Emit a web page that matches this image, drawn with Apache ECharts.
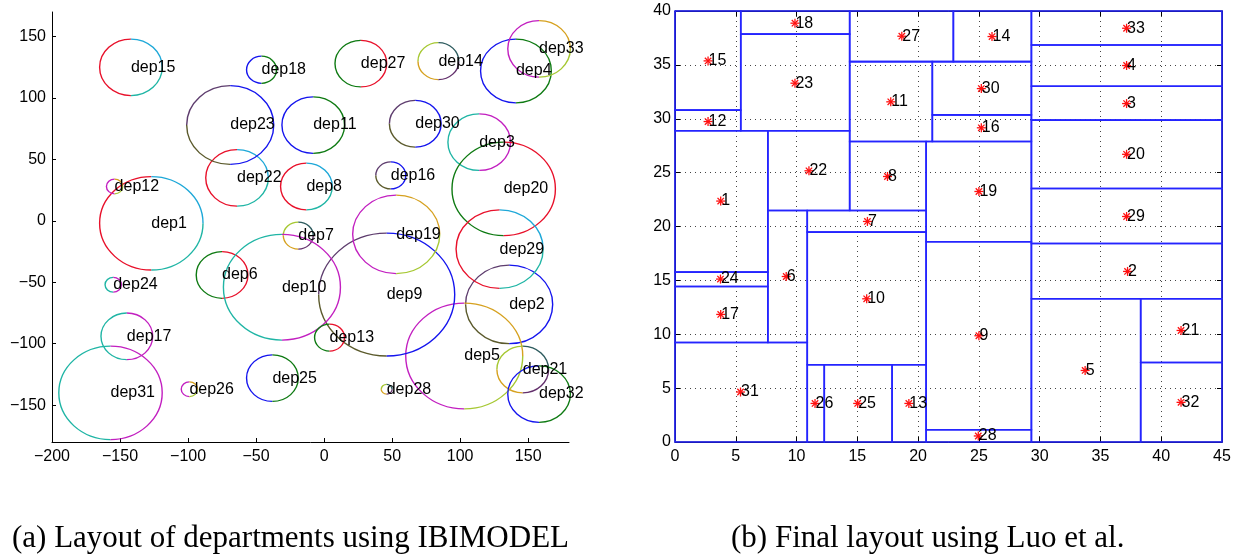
<!DOCTYPE html>
<html><head><meta charset="utf-8">
<script src="https://cdn.jsdelivr.net/npm/echarts@6/dist/echarts.min.js"></script>
<style>html,body{margin:0;padding:0;background:#fff}#c{width:1240px;height:560px}</style>
</head><body><div id="c"></div>
<script>
// ---------- Panel (a): IBIMODEL circles ----------
const circleNames = ['dep1','dep2','dep3','dep4','dep5','dep6','dep7','dep8','dep9','dep10','dep11',
  'dep12','dep13','dep14','dep15','dep16','dep17','dep18','dep19','dep20','dep21','dep22',
  'dep23','dep24','dep25','dep26','dep27','dep28','dep29','dep30','dep31','dep32','dep33'];
const circleX = [-127, 136, 114, 141, 103, -75, -19, -13, 46, -31, -8,
  -154, 4, 84, -142, 49, -145, -46, 53, 132, 146, -64,
  -69, -155, -38, -99, 27, 46, 129, 67, -157, 158, 158];
const circleY = [-2, -68, 64, 122, -110, -44, -12, 28, -60, -54, 78,
  28, -95, 130, 125, 37, -94, 123, -11, 26, -121, 35,
  78, -52, -128, -137, 128, -137, -23, 79, -140, -141, 140];
const circleR = [38, 32, 23, 26, 43, 19, 11, 19, 50, 43, 23,
  6, 11, 15, 23, 11, 19, 11, 32, 38, 19, 23,
  32, 6, 19, 6, 19, 4, 32, 19, 38, 23, 23];
const leftXTicks = [-200, -150, -100, -50, 0, 50, 100, 150];
const leftYTicks = [-150, -100, -50, 0, 50, 100, 150];

// ---------- Panel (b): final block layout ----------
const layoutLabels = ['1','2','3','4','5','6','7','8','9','10','11','12','13','14','15','16','17',
  '18','19','20','21','22','23','24','25','26','27','28','29','30','31','32','33'];
const pointX = [3.76, 37.23, 37.15, 37.15, 33.74, 9.15, 15.83, 17.48, 25.0, 15.77, 17.75,
  2.72, 19.24, 26.08, 2.72, 25.2, 3.76, 9.87, 25.0, 37.15, 41.63, 11.02,
  9.87, 3.74, 15.03, 11.52, 18.66, 24.95, 37.15, 25.2, 5.39, 41.63, 37.15];
const pointY = [22.36, 15.83, 31.41, 34.94, 6.64, 15.36, 20.47, 24.64, 9.86, 13.29, 31.57,
  29.74, 3.58, 37.63, 35.37, 29.16, 11.84, 38.87, 23.25, 26.7, 10.35, 25.17,
  33.3, 15.12, 3.58, 3.58, 37.66, 0.56, 20.93, 32.8, 4.64, 3.68, 38.4];
const rectX0 = [0, 29.32, 29.32, 29.32, 29.32, 7.64, 10.88, 14.37, 20.66, 10.88, 14.37,
  0, 17.86, 22.9, 0, 21.17, 0, 5.41, 20.66, 29.32, 38.31, 7.64,
  5.41, 0, 12.28, 10.88, 14.37, 20.66, 29.32, 21.17, 0, 38.31, 29.32];
const rectY0 = [15.77, 13.29, 29.87, 33.02, 0, 9.24, 19.48, 21.48, 1.14, 7.17, 27.89,
  28.88, 0, 35.3, 30.8, 27.89, 9.24, 37.85, 18.58, 23.53, 7.38, 21.48,
  28.88, 14.43, 0, 0, 35.3, 0, 18.42, 30.36, 0, 0, 36.85];
const rectX1 = [7.64, 45, 45, 45, 38.31, 10.88, 20.66, 20.66, 29.32, 20.66, 21.17,
  5.41, 20.66, 29.32, 5.41, 29.32, 7.64, 14.37, 29.32, 45, 45, 14.37,
  14.37, 7.64, 17.86, 12.28, 22.9, 29.32, 45, 29.32, 10.88, 45, 45];
const rectY1 = [28.88, 18.42, 33.02, 36.85, 13.29, 21.48, 21.48, 27.89, 18.58, 19.48, 35.3,
  30.8, 7.17, 40, 40, 30.36, 14.43, 40, 27.89, 29.87, 13.29, 28.88,
  37.85, 15.77, 7.17, 7.17, 40, 1.14, 23.53, 35.3, 9.24, 7.38, 40];
const rightXTicks = [0, 5, 10, 15, 20, 25, 30, 35, 40, 45];
const rightYTicks = [0, 5, 10, 15, 20, 25, 30, 35, 40];

const captions = ['(a) Layout of departments using IBIMODEL', '(b) Final layout using Luo et al.'];

// ---------- styles ----------
const C = {red:'#e8102a', cyan:'#1ea8d8', teal:'#1fb5a5', blue:'#1414ee', green:'#0e7a12',
  purple:'#5e3d6e', olive:'#5b5a2c', magenta:'#c21fc0', gold:'#d6a11f', lime:'#a6c832',
  darkteal:'#2d5b5e', plum:'#63306c'};
const PALETTES = [
  [[90,270,C.red],[270,360,C.teal],[0,90,C.cyan]],
  [[90,180,C.purple],[180,270,C.olive],[270,450,C.blue]],
  [[90,270,C.teal],[270,450,C.magenta]],
  [[90,270,C.blue],[270,450,C.green]],
  [[90,270,C.magenta],[270,360,C.lime],[0,90,C.gold]],
  [[90,270,C.green],[270,450,C.red]],
  [[90,180,C.lime],[180,270,C.gold],[270,360,C.plum],[0,90,C.darkteal]]
];
const SANS = '"Liberation Sans", Arial, Helvetica, sans-serif';
const fmtMinus = v => String(v).replace('-', '\u2212');

function renderCircle(params, api) {
  const i = params.dataIndex;
  const c = api.coord([api.value(0), api.value(1)]);
  const r = api.value(2);
  const rx = api.size([r, 0])[0];
  const ry = api.size([0, r])[1];
  const children = PALETTES[i % 7].map(s => ({
    type: 'arc', x: c[0], y: c[1], scaleX: 1, scaleY: ry / rx,
    shape: {cx: 0, cy: 0, r: rx, startAngle: -s[1] * Math.PI / 180, endAngle: -s[0] * Math.PI / 180, clockwise: true},
    style: {stroke: s[2], fill: 'none', lineWidth: 1.4, strokeNoScale: true}
  }));
  children.push({type: 'text', x: c[0], y: c[1], z2: 10,
    style: {text: circleNames[i], fill: '#000', font: '16px ' + SANS,
      align: 'left', verticalAlign: 'middle', textAlign: 'left', textVerticalAlign: 'middle'}});
  return {type: 'group', children};
}

function renderRect(params, api) {
  const p0 = api.coord([api.value(0), api.value(1)]);
  const p1 = api.coord([api.value(2), api.value(3)]);
  return {type: 'rect',
    shape: {x: Math.min(p0[0], p1[0]), y: Math.min(p0[1], p1[1]),
      width: Math.abs(p1[0] - p0[0]), height: Math.abs(p1[1] - p0[1])},
    style: {stroke: '#2424ff', fill: 'none', lineWidth: 1.6}};
}

function renderPoint(params, api) {
  const i = params.dataIndex;
  const p = api.coord([api.value(0), api.value(1)]);
  const a = 4.5, d = 3.2;
  const seg = (x1, y1, x2, y2) => ({type: 'line',
    shape: {x1: p[0] + x1, y1: p[1] + y1, x2: p[0] + x2, y2: p[1] + y2},
    style: {stroke: '#ff1010', lineWidth: 1.3}});
  return {type: 'group', children: [
    seg(-a, 0, a, 0), seg(0, -a, 0, a), seg(-d, -d, d, d), seg(-d, d, d, -d),
    {type: 'text', x: p[0] + 0.5, y: p[1],
      style: {text: layoutLabels[i], fill: '#000', font: '16px ' + SANS,
        align: 'left', verticalAlign: 'middle', textAlign: 'left', textVerticalAlign: 'middle'}}
  ]};
}

const circleData = circleX.map((x, i) => [x, circleY[i], circleR[i]]);
const rectData = rectX0.map((x, i) => [x, rectY0[i], rectX1[i], rectY1[i]]);
const pointData = pointX.map((x, i) => [x, pointY[i]]);

const axisText = {color: '#000', fontSize: 16, fontFamily: SANS};
const blackLine = {show: true, onZero: false, lineStyle: {color: '#000', width: 1}};

const option = {
  animation: false,
  backgroundColor: '#fff',
  grid: [
    {left: 52, top: 12, width: 517, height: 430, show: false},
    {left: 675, top: 11, width: 547, height: 431, show: true, borderColor: '#000', borderWidth: 1, backgroundColor: 'transparent'}
  ],
  xAxis: [
    {gridIndex: 0, type: 'value', min: -200, max: 180,
      axisLine: blackLine,
      axisTick: {show: true, inside: true, length: 4, customValues: leftXTicks, lineStyle: {color: '#000'}},
      axisLabel: Object.assign({customValues: leftXTicks, formatter: fmtMinus, margin: 7}, axisText),
      splitLine: {show: false}},
    {gridIndex: 1, type: 'value', min: 0, max: 45, interval: 5,
      axisLine: blackLine,
      axisTick: {show: true, inside: true, length: 5, customValues: rightXTicks, lineStyle: {color: '#000'}},
      axisLabel: Object.assign({margin: 7, customValues: rightXTicks}, axisText),
      splitLine: {show: true, lineStyle: {color: '#444', width: 1, type: [1, 4]}}},
    {gridIndex: 1, type: 'value', position: 'top', min: 0, max: 45, interval: 5,
      axisLine: blackLine,
      axisTick: {show: true, inside: true, length: 5, lineStyle: {color: '#000'}},
      axisLabel: {show: false}, splitLine: {show: false}}
  ],
  yAxis: [
    {gridIndex: 0, type: 'value', min: -180, max: 170,
      axisLine: blackLine,
      axisTick: {show: true, inside: true, length: 4, customValues: leftYTicks, lineStyle: {color: '#000'}},
      axisLabel: Object.assign({customValues: leftYTicks, formatter: fmtMinus, margin: 6}, axisText),
      splitLine: {show: false}},
    {gridIndex: 1, type: 'value', min: 0, max: 40, interval: 5,
      axisLine: blackLine,
      axisTick: {show: true, inside: true, length: 5, customValues: rightYTicks, lineStyle: {color: '#000'}},
      axisLabel: Object.assign({margin: 4, customValues: rightYTicks}, axisText),
      splitLine: {show: true, lineStyle: {color: '#444', width: 1, type: [1, 4]}}},
    {gridIndex: 1, type: 'value', position: 'right', min: 0, max: 40, interval: 5,
      axisLine: blackLine,
      axisTick: {show: true, inside: true, length: 5, lineStyle: {color: '#000'}},
      axisLabel: {show: false}, splitLine: {show: false}}
  ],
  series: [
    {type: 'custom', name: 'departments', xAxisIndex: 0, yAxisIndex: 0, data: circleData,
      encode: {x: 0, y: 1}, renderItem: renderCircle, clip: false, silent: true},
    {type: 'custom', name: 'blocks', xAxisIndex: 1, yAxisIndex: 1, data: rectData,
      encode: {x: [0, 2], y: [1, 3]}, renderItem: renderRect, silent: true, z: 2},
    {type: 'custom', name: 'centres', xAxisIndex: 1, yAxisIndex: 1, data: pointData,
      encode: {x: 0, y: 1}, renderItem: renderPoint, silent: true, z: 3}
  ],
  graphic: [
    {type: 'text', x: 12, y: 539, style: {text: captions[0], fill: '#000', font: '31px "Liberation Serif", "Times New Roman", serif',
      align: 'left', verticalAlign: 'middle', textAlign: 'left', textVerticalAlign: 'middle'}},
    {type: 'text', x: 731, y: 539, style: {text: captions[1], fill: '#000', font: '31px "Liberation Serif", "Times New Roman", serif',
      align: 'left', verticalAlign: 'middle', textAlign: 'left', textVerticalAlign: 'middle'}}
  ]
};
const chart = echarts.init(document.getElementById('c'), null, {renderer: 'canvas'});
chart.setOption(option);
</script>
</body></html>
